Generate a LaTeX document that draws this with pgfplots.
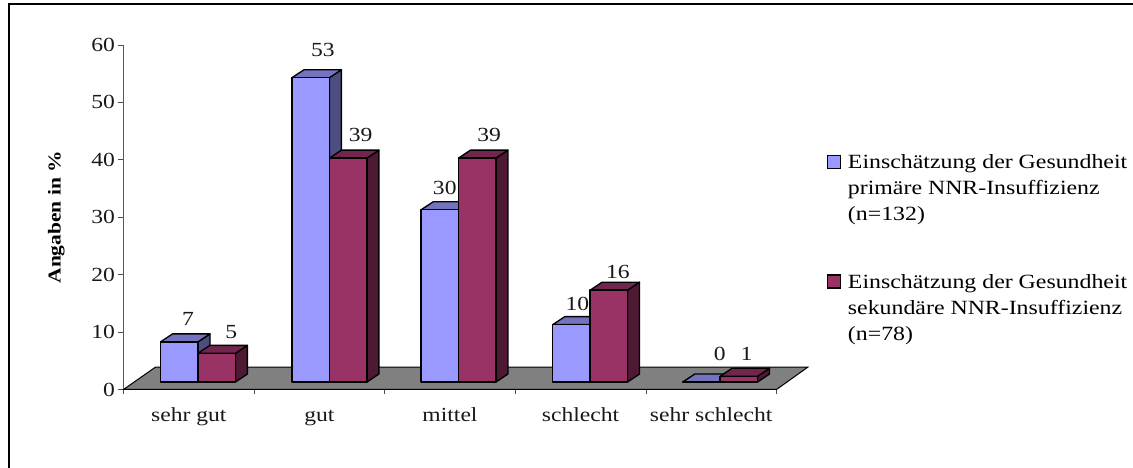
\documentclass[border=0pt]{standalone}
\usepackage{fontspec}
\setmainfont[FakeStretch=1.18]{Liberation Serif}
\usepackage{pgfplots}
\pgfplotsset{compat=1.18}

\definecolor{blueFront}{HTML}{9999FF}
\definecolor{blueTop}{HTML}{7373BF}
\definecolor{blueSide}{HTML}{4D4D80}
\definecolor{redFront}{HTML}{993366}
\definecolor{redTop}{HTML}{73264D}
\definecolor{redSide}{HTML}{4D1933}
\definecolor{floorGrey}{HTML}{808080}

% Extruded column: #1 left edge, #2 value, #3 colour prefix
\pgfmathsetmacro{\barw}{0.2865}
\pgfmathsetmacro{\depx}{0.092}
\pgfmathsetmacro{\depy}{1.39}
\pgfmathsetmacro{\base}{1.3}
\newcommand{\columnbar}[3]{%
  \pgfmathsetmacro{\xa}{#1}%
  \pgfmathsetmacro{\xb}{#1+\barw}%
  \pgfmathsetmacro{\xc}{#1+\barw+\depx}%
  \pgfmathsetmacro{\xd}{#1+\depx}%
  \pgfmathsetmacro{\ya}{\base}%
  \pgfmathsetmacro{\yb}{\base+#2}%
  \pgfmathsetmacro{\yc}{\base+\depy}%
  \pgfmathsetmacro{\yd}{\base+#2+\depy}%
  \addplot[draw=black,line width=1.35pt,line join=round,fill=#3Side,forget plot]
    coordinates {(\xb,\ya) (\xc,\yc) (\xc,\yd) (\xb,\yb)} -- cycle;
  \addplot[draw=black,line width=1.35pt,line join=round,fill=#3Top,forget plot]
    coordinates {(\xa,\yb) (\xb,\yb) (\xc,\yd) (\xd,\yd)} -- cycle;
  \addplot[draw=black,line width=1.35pt,line join=round,fill=#3Front,forget plot]
    coordinates {(\xa,\ya) (\xb,\ya) (\xb,\yb) (\xa,\yb)} -- cycle;
}

\begin{document}
\begin{tikzpicture}[x=1pt,y=1pt]
  \path[use as bounding box] (0,0) rectangle (1133,468);
  % outer chart frame, open to the right and bottom
  \draw[black,line width=2pt] (8.8,0) -- (8.8,463.6) -- (1133,463.6);
  \begin{axis}[
    at={(123.5pt,78.5pt)},anchor=south west,
    scale only axis,width=653pt,height=344.5pt,
    xmin=0,xmax=5,ymin=0,ymax=60,
    clip=false,
    axis x line*=bottom,axis y line*=left,
    axis line style={-,line width=1pt},
    y axis line style={draw=black!65},
    ytick={0,10,...,60},
    xtick={0.5,1.5,2.5,3.5,4.5},
    xticklabels={sehr gut,gut,mittel,schlecht,sehr schlecht},
    minor xtick={0,1,2,3,4,5},
    tick align=outside,
    major x tick style={draw=none},
    minor tick length=5pt,
    major tick length=5pt,
    minor x tick style={line width=0.8pt,black!70},
    major y tick style={line width=0.8pt,black!70},
    xticklabel style={yshift=-10pt,text height=13pt,text depth=4pt},
    tick label style={font=\fontsize{20}{23}\selectfont,text=black!90},
    /pgf/number format/assume math mode=true,
    ylabel={\bfseries Angaben in \%},
    every axis y label/.style={at={(axis description cs:-0.103,0.5)},rotate=90,anchor=center,
      font=\fontsize{18.2}{20}\selectfont},
    legend style={at={(axis description cs:1.0765,0.70)},anchor=north west,
      draw=none,fill=none,inner sep=0pt,
      font=\fontsize{20.2}{26}\selectfont,
      row sep=70pt,column sep=5pt},
    legend cell align=left,
  ]
    % floor
    \addplot[draw=black,line width=1pt,fill=floorGrey,forget plot]
      coordinates {(0,0) (5,0) (5.24,3.9) (0.245,3.9)} -- cycle;

    \columnbar{0.284}{7}{blue}
    \columnbar{0.57}{5}{red}
    \columnbar{1.29}{53}{blue}
    \columnbar{1.577}{39}{red}
    \columnbar{2.279}{30}{blue}
    \columnbar{2.565}{39}{red}
    \columnbar{3.287}{10}{blue}
    \columnbar{3.573}{16}{red}
    \columnbar{4.282}{0}{blue}
    \columnbar{4.568}{1}{red}

    % value labels
    \addplot[draw=none,mark=none,forget plot,
      point meta=explicit symbolic,
      nodes near coords,
      every node near coord/.append style={anchor=center,inner sep=0pt,
        font=\fontsize{20}{23}\selectfont,text=black!90}]
      coordinates {
        (0.495,12.2)[7] (0.825,9.95)[5]
        (1.527,59.1)[53] (1.816,44.35)[39]
        (2.46,35.1)[30] (2.80,44.35)[39]
        (3.475,14.95)[10] (3.786,20.45)[16]
        (4.565,6.15)[0] (4.77,6.15)[1]
      };

    \addlegendimage{legend image code/.code={
      \draw[black,line width=1.3pt,fill=blueFront] (0pt,5pt) rectangle (13pt,18pt);}}
    \addlegendentry{\begin{tabular}{@{}l@{}}Einschätzung der Gesundheit\\primäre NNR-Insuffizienz\\(n=132)\end{tabular}}
    \addlegendimage{legend image code/.code={
      \draw[black,line width=1.3pt,fill=redFront] (0pt,5pt) rectangle (13pt,18pt);}}
    \addlegendentry{\begin{tabular}{@{}l@{}}Einschätzung der Gesundheit\\sekundäre NNR-Insuffizienz\\(n=78)\end{tabular}}
  \end{axis}
\end{tikzpicture}
\end{document}
